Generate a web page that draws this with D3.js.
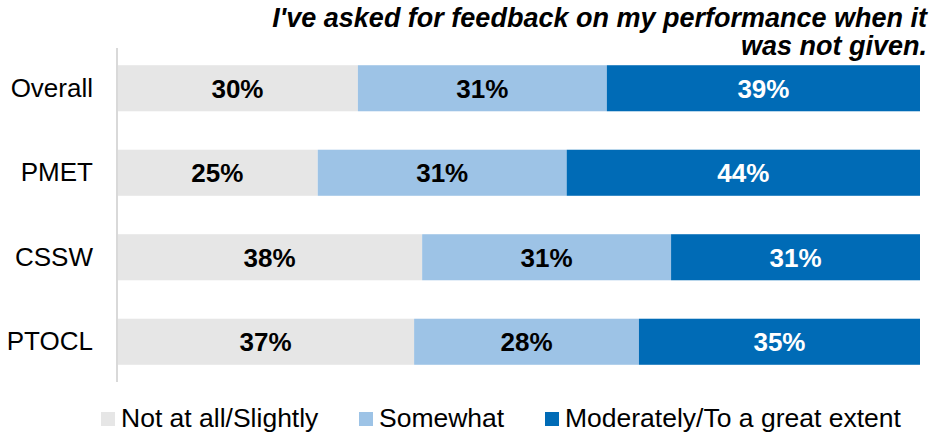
<!DOCTYPE html>
<html>
<head>
<meta charset="utf-8">
<script src="https://cdn.jsdelivr.net/npm/d3@7"></script>
<style>
  html, body { margin: 0; padding: 0; background: #fff; }
  svg { display: block; font-family: "Liberation Sans", Arial, sans-serif; }
</style>
</head>
<body>
<svg id="chart" width="936" height="434"></svg>
<script>
// Survey responses by group (percent)
const categories = ["Overall", "PMET", "CSSW", "PTOCL"];
const seriesNames = ["Not at all/Slightly", "Somewhat", "Moderately/To a great extent"];
const notAtAll = [30, 25, 38, 37];
const somewhat = [31, 31, 31, 28];
const moderately = [39, 44, 31, 35];
const colors = ["#e6e6e6", "#9dc3e6", "#006bb6"];
const labelColors = ["#000", "#000", "#fff"];
const titleLines = ["I've asked for feedback on my performance when it", "was not given."];

const svg = d3.select("#chart");
const margin = { left: 117, right: 16, top: 46, bottom: 50 };
const W = 936, H = 434;

const table = categories.map((c, i) => ({
  cat: c,
  [seriesNames[0]]: notAtAll[i],
  [seriesNames[1]]: somewhat[i],
  [seriesNames[2]]: moderately[i]
}));
const stacked = d3.stack().keys(seriesNames)(table);

const x = d3.scaleLinear().domain([0, 100]).range([margin.left, W - margin.right]);
const y = d3.scaleBand().domain(categories).range([margin.top, H - margin.bottom]).paddingInner(0.455).paddingOuter(0.2275);

// Bars
const layers = svg.append("g").selectAll("g").data(stacked).join("g")
  .attr("fill", (d, i) => colors[i]);
layers.selectAll("rect").data(d => d).join("rect")
  .attr("x", d => x(d[0]))
  .attr("y", d => y(d.data.cat))
  .attr("width", d => x(d[1]) - x(d[0]))
  .attr("height", y.bandwidth());

// Value labels
stacked.forEach((layer, i) => {
  svg.append("g").selectAll("text").data(layer).join("text")
    .attr("x", d => (x(d[0]) + x(d[1])) / 2)
    .attr("y", d => y(d.data.cat) + y.bandwidth() / 2)
    .attr("dy", "0.36em")
    .attr("text-anchor", "middle")
    .attr("font-size", 26)
    .attr("font-weight", "bold")
    .attr("fill", labelColors[i])
    .text(d => (d[1] - d[0]) + "%");
});

// Category axis
const yAxis = svg.append("g")
  .attr("transform", `translate(${margin.left},0)`)
  .call(d3.axisLeft(y).tickSize(0).tickPadding(24));
yAxis.select(".domain").attr("stroke", "#d9d9d9").attr("stroke-width", 2)
  .attr("d", `M0,${margin.top + 2}V${H - margin.bottom - 2}`);
yAxis.selectAll("text").attr("font-size", 26).attr("fill", "#000")
  .attr("font-family", "Liberation Sans, Arial, sans-serif");

// Title
svg.append("text")
  .attr("text-anchor", "end")
  .attr("font-size", 27).attr("font-weight", "bold").attr("font-style", "italic")
  .selectAll("tspan").data(titleLines).join("tspan")
  .attr("x", 927).attr("y", (d, i) => 27 + i * 28)
  .text(d => d);

// Legend
const legendX = [101, 359, 545];
const legend = svg.append("g").selectAll("g").data(seriesNames).join("g")
  .attr("transform", (d, i) => `translate(${legendX[i]},412)`);
legend.append("rect").attr("width", 14).attr("height", 14).attr("fill", (d, i) => colors[i]);
legend.append("text").attr("x", 20).attr("y", 15)
  .attr("font-size", 26.5).attr("fill", "#000").text(d => d);
</script>
</body>
</html>
